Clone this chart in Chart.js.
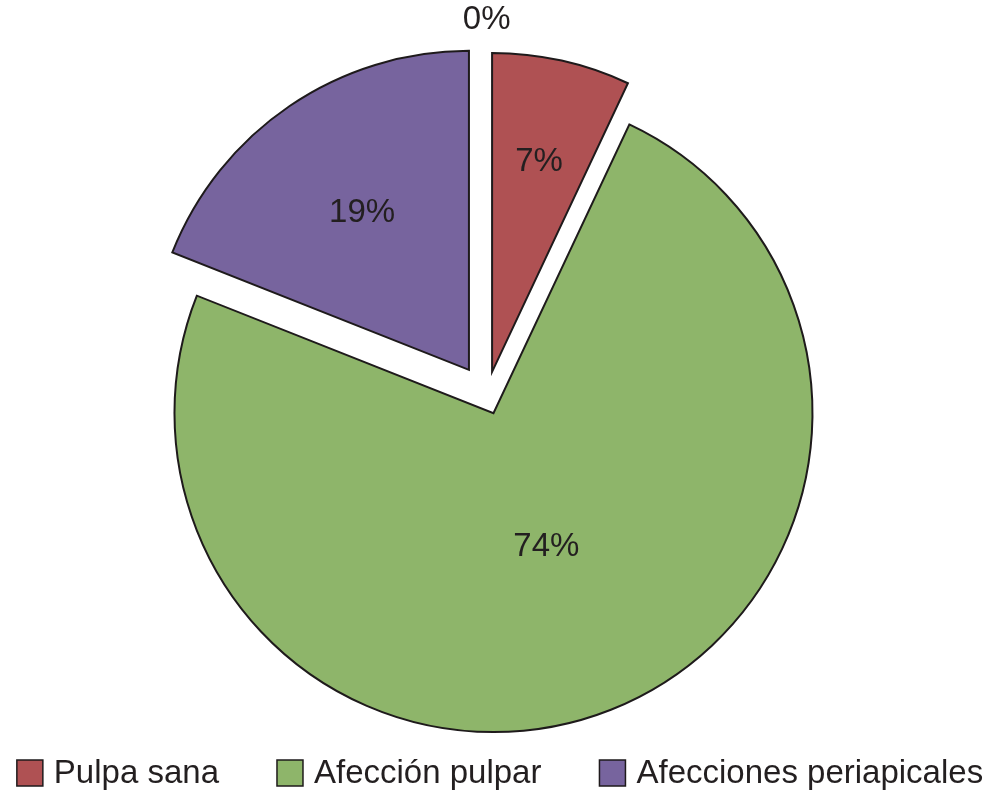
<!DOCTYPE html>
<html>
<head>
<meta charset="utf-8">
<script src="https://cdn.jsdelivr.net/npm/chart.js@4/dist/chart.umd.min.js"></script>
<style>
  html, body { margin: 0; padding: 0; background: #ffffff; }
  #c { display: block; }
</style>
</head>
<body>
<canvas id="c" width="992" height="799"></canvas>
<script>
// ---- data ----
const categories = ['', 'Pulpa sana', 'Afección pulpar', 'Afecciones periapicales'];
const values = [0, 7, 74, 19];
const sliceColors = ['#4F81BD', '#AF5153', '#8EB56A', '#77649E'];
const explodeDistance = [0, 24.7, 18.4, 31.6];
const labelRadiusFraction = [1.18, 0.675, 0.45, 0.596];

const total = values.reduce((a, b) => a + b, 0);
const percentLabels = values.map(v => Math.round(v / total * 100) + '%');

const FONT = '"Liberation Sans", Arial, Helvetica, sans-serif';
const TEXT_COLOR = '#231f20';
const BORDER_COLOR = '#1e1a1b';

// moves each slice outwards along its bisector (exploded pie)
const explodePlugin = {
  id: 'explodeSlices',
  afterDatasetUpdate(chart, args) {
    const meta = chart.getDatasetMeta(args.index);
    meta.data.forEach((arc, i) => {
      const d = explodeDistance[i] || 0;
      const mid = (arc.startAngle + arc.endAngle) / 2;
      arc.x += Math.cos(mid) * d;
      arc.y += Math.sin(mid) * d;
    });
  }
};

// percentage labels
const percentPlugin = {
  id: 'percentLabels',
  afterDatasetsDraw(chart) {
    const meta = chart.getDatasetMeta(0);
    const ctx = chart.ctx;
    ctx.save();
    ctx.font = '33px ' + FONT;
    ctx.fillStyle = TEXT_COLOR;
    ctx.textAlign = 'center';
    ctx.textBaseline = 'middle';
    meta.data.forEach((arc, i) => {
      const mid = (arc.startAngle + arc.endAngle) / 2;
      const r = arc.outerRadius * labelRadiusFraction[i];
      ctx.fillText(percentLabels[i], arc.x + Math.cos(mid) * r, arc.y + Math.sin(mid) * r);
    });
    ctx.restore();
  }
};

// bottom legend (the zero-value category has no legend entry)
const bottomLegendPlugin = {
  id: 'bottomLegend',
  afterDraw(chart) {
    const ctx = chart.ctx;
    const box = 26, gapText = 11, gapItem = 58, centerY = 773;
    ctx.save();
    ctx.font = '33px ' + FONT;
    ctx.textBaseline = 'middle';
    ctx.textAlign = 'left';
    const items = categories
      .map((label, i) => ({ label, color: sliceColors[i] }))
      .filter(it => it.label !== '');
    const widths = items.map(it => box + gapText + ctx.measureText(it.label).width);
    const totalW = widths.reduce((a, b) => a + b, 0) + gapItem * (items.length - 1);
    let x = (chart.width - totalW) / 2 + 4;
    items.forEach((it, i) => {
      ctx.fillStyle = it.color;
      ctx.fillRect(x, centerY - box / 2, box, box);
      ctx.strokeStyle = BORDER_COLOR;
      ctx.lineWidth = 1.5;
      ctx.strokeRect(x, centerY - box / 2, box, box);
      ctx.fillStyle = TEXT_COLOR;
      ctx.fillText(it.label, x + box + gapText, centerY + 1);
      x += widths[i] + gapItem;
    });
    ctx.restore();
  }
};

Chart.defaults.font.family = FONT;

new Chart(document.getElementById('c'), {
  type: 'pie',
  data: {
    labels: categories,
    datasets: [{
      data: values,
      backgroundColor: sliceColors,
      borderColor: BORDER_COLOR,
      borderWidth: 2,
      borderJoinStyle: 'miter'
    }]
  },
  options: {
    responsive: false,
    animation: false,
    radius: 319,
    layout: { padding: { left: 0, right: 18.6, top: 88, bottom: 95 } },
    plugins: {
      tooltip: { enabled: false },
      legend: { display: false }
    }
  },
  plugins: [explodePlugin, percentPlugin, bottomLegendPlugin]
});
</script>
</body>
</html>
